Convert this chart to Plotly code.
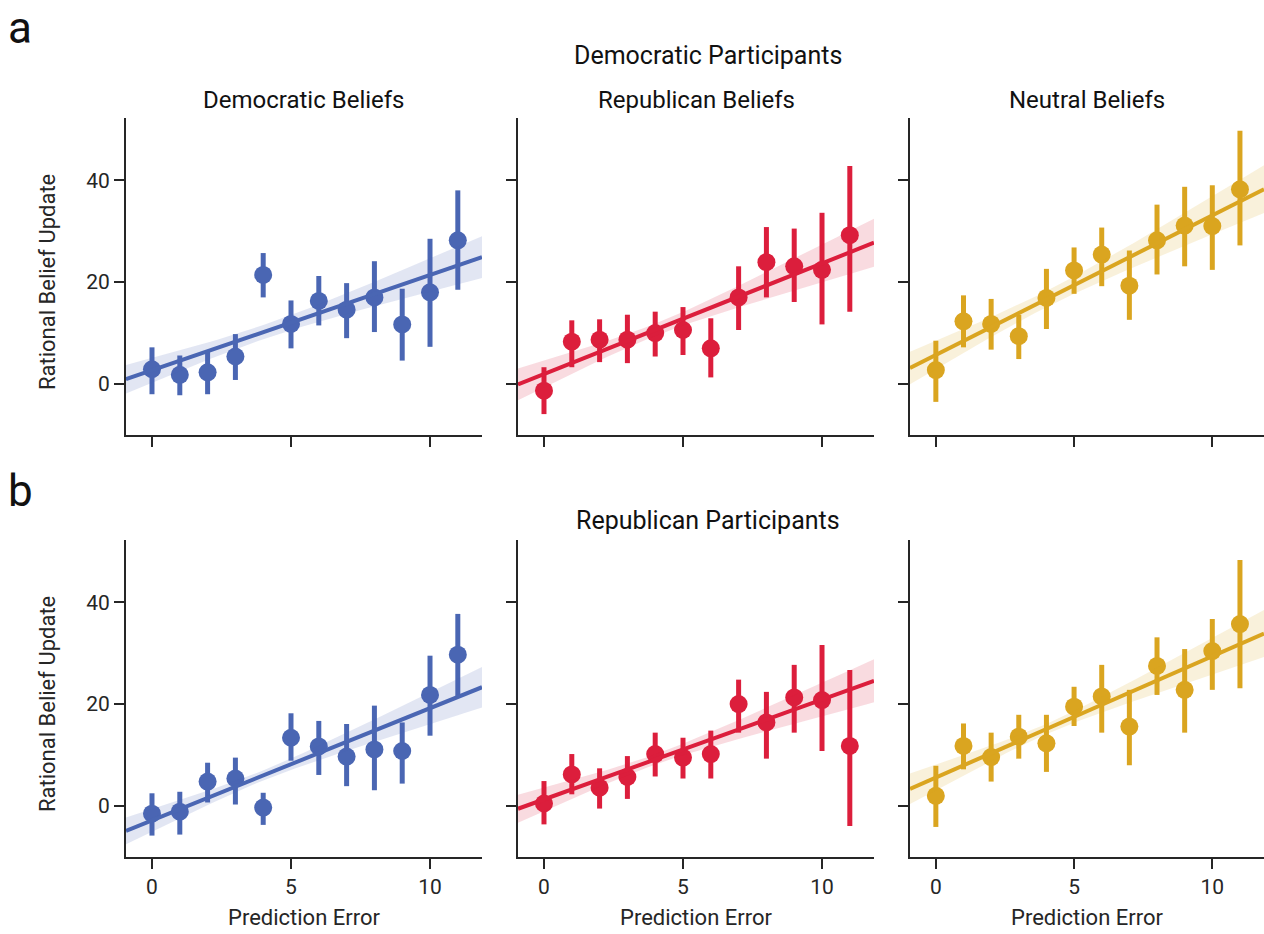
import plotly.graph_objects as go

# ---------------- data ----------------
x_vals = [0, 1, 2, 3, 4, 5, 6, 7, 8, 9, 10, 11]

# Democratic participants
dem_dem_mean = [2.9, 1.8, 2.3, 5.4, 21.4, 11.8, 16.3, 14.6, 17.0, 11.7, 18.0, 28.2]
dem_dem_hi   = [7.2, 5.6, 6.4, 9.8, 25.7, 16.4, 21.2, 19.8, 24.1, 18.7, 28.5, 38.0]
dem_dem_lo   = [-2.0, -2.2, -2.0, 0.8, 17.0, 7.0, 11.5, 9.0, 10.2, 4.6, 7.3, 18.5]

dem_rep_mean = [-1.3, 8.3, 8.7, 8.7, 10.0, 10.6, 7.0, 17.0, 23.9, 23.1, 22.4, 29.2]
dem_rep_hi   = [3.3, 12.5, 12.7, 13.6, 14.2, 15.1, 12.9, 23.1, 30.8, 30.5, 33.6, 42.8]
dem_rep_lo   = [-5.9, 3.3, 4.3, 4.1, 5.4, 5.7, 1.3, 10.6, 17.0, 16.1, 11.7, 14.2]

dem_neu_mean = [2.75, 12.3, 11.8, 9.4, 16.9, 22.3, 25.4, 19.3, 28.2, 31.1, 31.0, 38.2]
dem_neu_hi   = [8.5, 17.4, 16.7, 13.6, 22.6, 26.8, 30.7, 26.2, 35.2, 38.7, 39.0, 49.7]
dem_neu_lo   = [-3.5, 7.2, 6.75, 4.9, 10.8, 17.7, 19.2, 12.6, 21.5, 23.1, 22.4, 27.2]

# Republican participants
rep_dem_mean = [-1.5, -1.1, 4.8, 5.4, -0.3, 13.4, 11.7, 9.7, 11.1, 10.8, 21.8, 29.7]
rep_dem_hi   = [2.5, 2.8, 8.5, 9.5, 2.6, 18.2, 16.7, 16.1, 19.7, 16.4, 29.5, 37.7]
rep_dem_lo   = [-5.8, -5.6, 0.7, 0.3, -3.7, 8.9, 6.1, 3.9, 3.1, 4.4, 13.8, 21.6]

rep_rep_mean = [0.5, 6.2, 3.6, 5.7, 10.2, 9.5, 10.2, 20.0, 16.4, 21.3, 20.8, 11.8]
rep_rep_hi   = [4.9, 10.2, 7.4, 9.8, 14.4, 13.4, 14.8, 24.8, 22.4, 27.7, 31.6, 26.7]
rep_rep_lo   = [-3.6, 2.3, -0.5, 1.4, 5.8, 5.4, 5.4, 14.4, 9.3, 14.4, 10.8, -3.9]

rep_neu_mean = [2.0, 11.8, 9.6, 13.6, 12.3, 19.5, 21.5, 15.6, 27.5, 22.8, 30.4, 35.7]
rep_neu_hi   = [7.9, 16.2, 14.4, 17.9, 17.9, 23.4, 27.7, 22.8, 33.1, 30.8, 36.7, 48.3]
rep_neu_lo   = [-4.1, 7.2, 4.8, 9.3, 6.7, 15.7, 14.4, 8.0, 21.8, 14.4, 22.8, 23.1]

# regression fits: intercept, slope, CI half-width at centre, slope SE
fit_intercept = [2.7, 1.97, 5.7, -2.8, 1.3, 5.6]
fit_slope     = [1.87, 2.17, 2.74, 2.2, 1.96, 2.38]
fit_ci_center = [1.4, 1.2, 1.6, 1.0, 1.0, 1.0]
fit_ci_slope  = [0.49, 0.58, 0.56, 0.49, 0.52, 0.57]
fit_x_center = 4.0

col_titles = ["Democratic Beliefs", "Republican Beliefs", "Neutral Beliefs"]
row_titles = ["Democratic Participants", "Republican Participants"]
panel_letters = ["a", "b"]
y_ticks = [0, 20, 40]
x_ticks = [0, 5, 10]
x_title = "Prediction Error"
y_title = "Rational Belief Update"

panels = [
    (dem_dem_mean, dem_dem_hi, dem_dem_lo),
    (dem_rep_mean, dem_rep_hi, dem_rep_lo),
    (dem_neu_mean, dem_neu_hi, dem_neu_lo),
    (rep_dem_mean, rep_dem_hi, rep_dem_lo),
    (rep_rep_mean, rep_rep_hi, rep_rep_lo),
    (rep_neu_mean, rep_neu_hi, rep_neu_lo),
]

# ---------------- style ----------------
colors = ["#4A66B3", "#DC1E3C", "#DAA520"]
band_colors = ["rgba(74,102,179,0.16)", "rgba(220,30,60,0.16)", "rgba(218,165,32,0.16)"]
FONT = "Roboto, Liberation Sans, sans-serif"
INK = "#262626"

W, H = 1264, 934
col_px = [(126, 482), (518, 874), (910, 1264)]
row_px = [(118, 435), (540, 857)]
x_range = [-0.935, 11.87]
y_range = [-10, 52.2]

fig = go.Figure()

n_line = 60
xs_line = [x_range[0] + (x_range[1] - x_range[0]) * i / (n_line - 1) for i in range(n_line)]

for p, (mean, hi, lo) in enumerate(panels):
    r, c = divmod(p, 3)
    idx = p + 1
    xa = "x" if idx == 1 else f"x{idx}"
    ya = "y" if idx == 1 else f"y{idx}"
    col = colors[c]

    # points with CI bars
    fig.add_trace(go.Scatter(
        x=x_vals, y=mean, mode="markers", xaxis=xa, yaxis=ya,
        marker=dict(size=18, color=col, line=dict(width=0)),
        error_y=dict(type="data", symmetric=False,
                     array=[h - m for h, m in zip(hi, mean)],
                     arrayminus=[m - l for m, l in zip(mean, lo)],
                     color=col, thickness=5, width=0),
        showlegend=False, hoverinfo="skip"))

    b0, b1 = fit_intercept[p], fit_slope[p]
    a, bs = fit_ci_center[p], fit_ci_slope[p]
    yfit = [b0 + b1 * x for x in xs_line]
    hw = [(a ** 2 + (bs * (x - fit_x_center)) ** 2) ** 0.5 for x in xs_line]
    fig.add_trace(go.Scatter(x=xs_line, y=[y - h for y, h in zip(yfit, hw)], mode="lines",
                             line=dict(width=0, color=band_colors[c]), xaxis=xa, yaxis=ya,
                             showlegend=False, hoverinfo="skip"))
    fig.add_trace(go.Scatter(x=xs_line, y=[y + h for y, h in zip(yfit, hw)], mode="lines",
                             line=dict(width=0, color=band_colors[c]), fill="tonexty",
                             fillcolor=band_colors[c], xaxis=xa, yaxis=ya,
                             showlegend=False, hoverinfo="skip"))
    fig.add_trace(go.Scatter(x=xs_line, y=yfit, mode="lines", xaxis=xa, yaxis=ya,
                             line=dict(width=4, color=col), showlegend=False, hoverinfo="skip"))

    x0, x1 = col_px[c]
    y0, y1 = row_px[r]
    axis_common = dict(showline=True, linewidth=2, linecolor=INK, ticks="outside",
                       ticklen=10, tickwidth=2.2, tickcolor=INK, showgrid=False,
                       zeroline=False, tickfont=dict(family=FONT, size=21, color=INK))
    fig.layout[("xaxis" if idx == 1 else f"xaxis{idx}")] = dict(
        axis_common, domain=[x0 / W, x1 / W], range=x_range, anchor=ya,
        tickmode="array", tickvals=x_ticks, showticklabels=(r == 1))
    fig.layout[("yaxis" if idx == 1 else f"yaxis{idx}")] = dict(
        axis_common, domain=[1 - y1 / H, 1 - y0 / H], range=y_range, anchor=xa,
        tickmode="array", tickvals=y_ticks, showticklabels=(c == 0))


def note(text, px, py, size, color="#111", angle=0, yanchor="middle"):
    return dict(text=text, x=px / W, y=1 - py / H, xref="paper", yref="paper",
                xanchor="center", yanchor=yanchor, textangle=angle, showarrow=False,
                font=dict(family=FONT, size=size, color=color))


annotations = []
for c, t in enumerate(col_titles):
    annotations.append(note(t, (col_px[c][0] + col_px[c][1]) / 2, 100, 24))
for t, yy in zip(row_titles, [55, 520]):
    annotations.append(note(t, 708, yy, 25))
for L, yy in zip(panel_letters, [0, 463]):
    annotations.append(note(L, 20, yy, 44, yanchor="top"))
for yy in [282, 704]:
    annotations.append(note(y_title, 47, yy, 22, INK, -90))
for c in range(3):
    annotations.append(note(x_title, (col_px[c][0] + col_px[c][1]) / 2, 917, 22, INK))

fig.update_layout(width=W, height=H, margin=dict(l=0, r=0, t=0, b=0),
                  paper_bgcolor="white", plot_bgcolor="white",
                  annotations=annotations, showlegend=False)

fig.write_html("out.html", config={"displayModeBar": False},
               post_script="document.body.style.margin='0px';document.body.style.overflow='hidden';")
